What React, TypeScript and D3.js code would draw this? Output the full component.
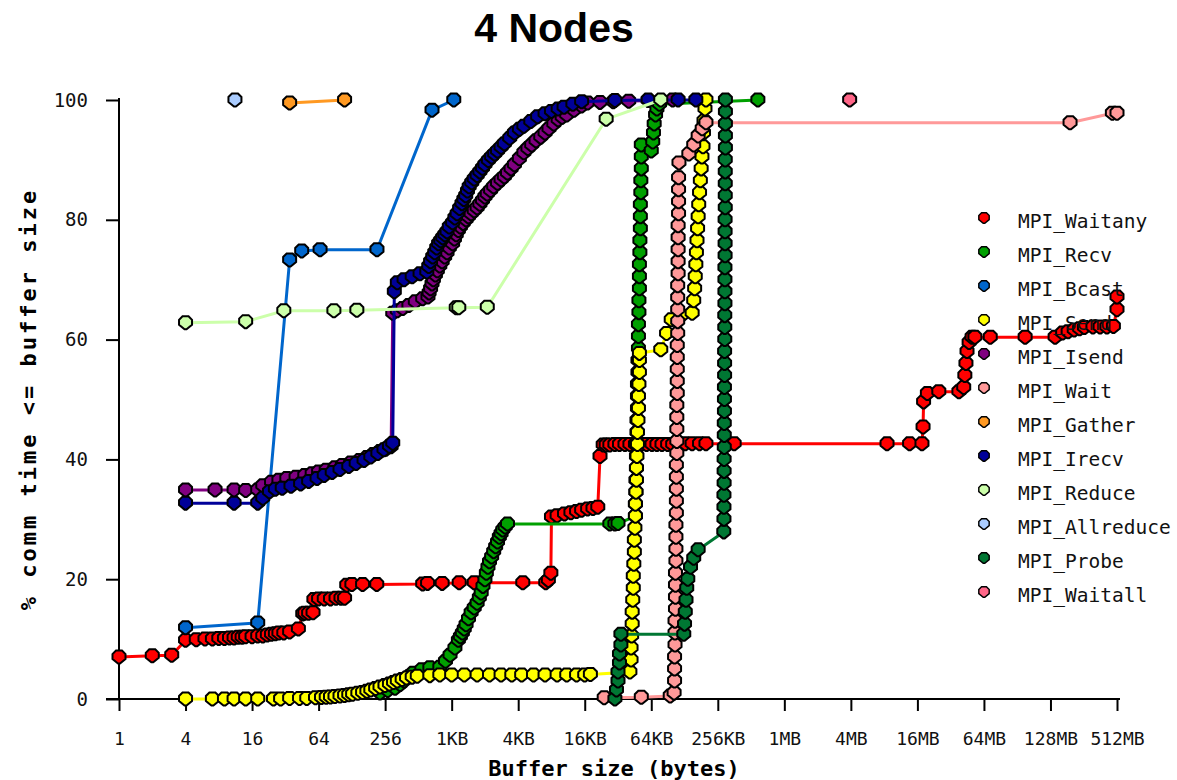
import * as d3 from "d3";
import { useEffect, useRef } from "react";

const WIDTH = 1177;
const HEIGHT = 780;
const MONO = "'DejaVu Sans Mono', monospace";

const KB = 1024;
const MB = 1024 * KB;
const GB = 1024 * MB;

type Pt = [number, number]; // [buffer size in bytes, % comm time]

const X_TICK_LABELS = ["1", "4", "16", "64", "256", "1KB", "4KB", "16KB", "64KB", "256KB", "1MB", "4MB", "16MB", "64MB", "128MB", "512MB"];
const Y_TICKS = [0, 20, 40, 60, 80, 100];

const WAITANY: Pt[] = [
  [1, 7.0], [2, 7.2], [3, 7.3], [4, 9.8], [5, 9.9], [6, 10.0], [7, 10.0], [8, 10.1], [9, 10.1], [10, 10.2],
  [11, 10.2], [12, 10.3], [13, 10.3], [14, 10.4], [16, 10.4], [18, 10.5], [20, 10.5], [22, 10.7], [24, 10.8],
  [26, 10.9], [28, 11.0], [31, 11.0], [35, 11.2], [42, 11.7], [46, 14.2], [48, 14.3], [52, 14.3], [57, 14.4],
  [58, 16.6], [64, 16.7], [72, 16.7], [82, 16.7], [92, 16.8], [102, 16.8], [110, 16.8], [115, 19.0], [128, 19.1],
  [160, 19.1], [215, 19.1], [560, 19.2], [620, 19.3], [840, 19.3], [1.17 * KB, 19.4], [1.6 * KB, 19.4],
  [4.4 * KB, 19.4], [7.1 * KB, 19.4], [7.5 * KB, 19.8], [7.9 * KB, 21.0], [8 * KB, 30.4], [9 * KB, 30.6],
  [10.5 * KB, 30.9], [12 * KB, 31.1], [13.5 * KB, 31.3], [15 * KB, 31.5], [17 * KB, 31.7], [19 * KB, 31.8],
  [21 * KB, 32.0], [22 * KB, 40.5], [23.5 * KB, 42.4], [25 * KB, 42.4], [27 * KB, 42.4], [30 * KB, 42.5],
  [33 * KB, 42.5], [37 * KB, 42.5], [41 * KB, 42.5], [46 * KB, 42.5], [52 * KB, 42.5], [58 * KB, 42.5],
  [65 * KB, 42.5], [72 * KB, 42.5], [80 * KB, 42.5], [90 * KB, 42.5], [100 * KB, 42.5], [115 * KB, 42.5],
  [130 * KB, 42.6], [150 * KB, 42.6], [175 * KB, 42.6], [200 * KB, 42.6], [360 * KB, 42.6], [8.5 * MB, 42.6],
  [13.6 * MB, 42.6], [17.6 * MB, 42.6], [18 * MB, 45.4], [18.2 * MB, 49.6], [19.7 * MB, 51.0], [25 * MB, 51.3],
  [38 * MB, 51.3], [42 * MB, 52], [43 * MB, 54], [44 * MB, 56], [45 * MB, 58], [47 * MB, 59.5], [50 * MB, 60.4],
  [53 * MB, 60.4], [73 * MB, 60.4], [151 * MB, 60.4], [282 * MB, 60.4], [330 * MB, 61.1], [370 * MB, 61.3],
  [420 * MB, 61.6], [470 * MB, 61.8], [520 * MB, 62.0], [620 * MB, 62.1], [720 * MB, 62.1], [830 * MB, 62.1],
  [950 * MB, 62.2], [1 * GB, 65.0], [1 * GB, 67.1],
];

const RECV: Pt[] = [
  [230, 1.0], [270, 1.4], [315, 1.8], [350, 2.4], [380, 3.0], [420, 3.7], [458, 4.3], [550, 4.9], [650, 5.2],
  [800, 5.3], [900, 6.3], [990, 7.3], [1.07 * KB, 8.5], [1.15 * KB, 9.8], [1.2 * KB, 10.4], [1.25 * KB, 11.0],
  [1.3 * KB, 11.7], [1.35 * KB, 12.4], [1.42 * KB, 13.4], [1.5 * KB, 14.4], [1.6 * KB, 15.2], [1.7 * KB, 16],
  [1.78 * KB, 16.9], [1.85 * KB, 17.7], [1.92 * KB, 18.8], [2 * KB, 19.9], [2.06 * KB, 21], [2.13 * KB, 22],
  [2.2 * KB, 22.9], [2.3 * KB, 23.7], [2.4 * KB, 24.6], [2.5 * KB, 25.4], [2.6 * KB, 26.2], [2.7 * KB, 27],
  [2.8 * KB, 27.6], [2.9 * KB, 28.2], [3.05 * KB, 28.7], [3.2 * KB, 29.2], [27 * KB, 29.2], [30 * KB, 29.2],
  [32 * KB, 29.3],
  [46 * KB, 30.5], [46 * KB, 32.5], [46.5 * KB, 34.5], [46.5 * KB, 36.5], [47 * KB, 38.5], [47 * KB, 40.5],
  [47 * KB, 42.5], [47.5 * KB, 44.5], [47.5 * KB, 46.5], [48 * KB, 48.5], [48 * KB, 50.5], [48 * KB, 52.5],
  [48.5 * KB, 54.5], [48.5 * KB, 56.5], [49 * KB, 58.5], [49 * KB, 60.5], [49 * KB, 62.5], [49.5 * KB, 64.5],
  [49.5 * KB, 66.5], [50 * KB, 68.5], [50 * KB, 70.5], [50 * KB, 72.5], [50.5 * KB, 74.5], [50.5 * KB, 76.5],
  [51 * KB, 78.5], [51 * KB, 80.5], [51 * KB, 82.5], [51.5 * KB, 84.5], [51.5 * KB, 86.5], [52 * KB, 88.5],
  [52 * KB, 90.5], [52 * KB, 92.5], [64 * KB, 91.5], [66 * KB, 93], [67 * KB, 94.5], [68 * KB, 96],
  [70 * KB, 97.5], [72 * KB, 98.5], [76 * KB, 99.3], [590 * KB, 100],
];

const BCAST: Pt[] = [
  [4, 11.9], [18, 12.7], [35, 73.3], [45, 74.8], [66, 75], [216, 75], [680, 98.3], [1070, 100],
];

const SEND: Pt[] = [
  [4, 0], [7, 0], [9, 0], [11, 0], [14, 0], [18, 0], [25, 0], [29, 0], [35, 0.1], [43, 0.1], [50, 0.1],
  [60, 0.2], [68, 0.25], [75, 0.3], [82, 0.35], [90, 0.4], [100, 0.5], [110, 0.6], [120, 0.7], [130, 0.8],
  [145, 0.95], [160, 1.1], [175, 1.3], [190, 1.5], [210, 1.75], [230, 2], [255, 2.25], [280, 2.5], [305, 2.75],
  [330, 3], [365, 3.25], [400, 3.5], [450, 3.65], [500, 3.8], [650, 3.9], [800, 4], [1 * KB, 4], [1.3 * KB, 4],
  [1.7 * KB, 4], [2.2 * KB, 4], [2.8 * KB, 4], [3.5 * KB, 4], [4.3 * KB, 4], [5.5 * KB, 4], [7 * KB, 4],
  [9 * KB, 4], [11 * KB, 4], [13.5 * KB, 4], [16 * KB, 4], [18 * KB, 4.1],
  [41 * KB, 4.5], [42 * KB, 6.5], [42 * KB, 8.5], [42.5 * KB, 10.5], [43 * KB, 12.5], [43 * KB, 14.5],
  [43.5 * KB, 16.5], [44 * KB, 18.5], [44 * KB, 20.5], [44.5 * KB, 22.5], [45 * KB, 24.5], [45 * KB, 26.5],
  [45.5 * KB, 28.5], [46 * KB, 30.5], [46 * KB, 32.5], [46.5 * KB, 34.5], [47 * KB, 36.5], [47 * KB, 38.5],
  [47.5 * KB, 40.5], [48 * KB, 42.5], [48 * KB, 44.5], [48.5 * KB, 46.5], [49 * KB, 48.5], [49 * KB, 50.5],
  [49.5 * KB, 52.5], [50 * KB, 54.5], [50 * KB, 56.5], [50 * KB, 57.7],
  [78 * KB, 58.3], [88 * KB, 61], [97 * KB, 63.3], [120 * KB, 64.0], [150 * KB, 64.4], [155 * KB, 66.5],
  [158 * KB, 68.5], [160 * KB, 70.5], [162 * KB, 72.5], [164 * KB, 74.5], [166 * KB, 76.5], [168 * KB, 78.5],
  [170 * KB, 80.5], [172 * KB, 82.5], [175 * KB, 84.5], [178 * KB, 86.5], [181 * KB, 88.5], [184 * KB, 90.5],
  [188 * KB, 92.2], [190 * KB, 94.5], [192 * KB, 96.5], [196 * KB, 98.5], [200 * KB, 100],
];

const ISEND: Pt[] = [
  [4, 34.9], [7.4, 34.9], [11, 34.9], [14, 34.8], [18, 34.9], [20, 35.6], [24, 36.2], [28, 36.5], [33, 36.8],
  [40, 37], [48, 37.3], [56, 37.6], [64, 37.9], [75, 38.2], [90, 38.6], [105, 39], [125, 39.4], [150, 39.8],
  [175, 40.3], [200, 40.8], [230, 41.3], [260, 41.7], [290, 42.1],
  [300, 64.4], [330, 64.8], [370, 65.2], [420, 65.7], [480, 66.3], [560, 66.8], [625, 67.1], [640, 67.8],
  [660, 68.5], [680, 69.3], [700, 70], [730, 70.8], [760, 71.5], [800, 72.3], [840, 73], [885, 73.8], [930, 74.5],
  [975, 75.3], [1.02 * KB, 76], [1.06 * KB, 76.8], [1.1 * KB, 77.5], [1.15 * KB, 78.2], [1.2 * KB, 78.8],
  [1.27 * KB, 79.4], [1.35 * KB, 80], [1.42 * KB, 80.5], [1.5 * KB, 81], [1.6 * KB, 81.5], [1.7 * KB, 82],
  [1.8 * KB, 82.6], [1.9 * KB, 83.2], [2 * KB, 83.8], [2.1 * KB, 84.3], [2.25 * KB, 84.9], [2.4 * KB, 85.5],
  [2.6 * KB, 86.1], [2.8 * KB, 86.7], [3 * KB, 87.2], [3.2 * KB, 87.8], [3.45 * KB, 88.5], [3.7 * KB, 89.2],
  [4.1 * KB, 90.2], [4.5 * KB, 91.2], [4.9 * KB, 91.9], [5.3 * KB, 92.5], [5.8 * KB, 93.2], [6.4 * KB, 93.8],
  [7 * KB, 94.5], [7.6 * KB, 95.2], [8.4 * KB, 96], [9.2 * KB, 96.7], [10 * KB, 97.1], [11 * KB, 97.5],
  [12.8 * KB, 98.3], [15 * KB, 99], [17 * KB, 99.5], [22 * KB, 99.6], [29 * KB, 99.7], [40 * KB, 99.8],
  [60 * KB, 99.9], [100 * KB, 100],
];

const WAIT: Pt[] = [
  [24 * KB, 0.2], [52 * KB, 0.3], [95 * KB, 0.5], [103 * KB, 1], [104 * KB, 3], [104 * KB, 5], [104 * KB, 7],
  [105 * KB, 9], [105 * KB, 11], [105 * KB, 13], [106 * KB, 15], [106 * KB, 17], [106 * KB, 19], [106 * KB, 21],
  [107 * KB, 23], [107 * KB, 25], [107 * KB, 27], [107 * KB, 29], [108 * KB, 31], [108 * KB, 33], [108 * KB, 35],
  [108 * KB, 37], [108 * KB, 39], [109 * KB, 41], [109 * KB, 43], [109 * KB, 45], [109 * KB, 47], [109 * KB, 49],
  [110 * KB, 51], [110 * KB, 53], [110 * KB, 55], [110 * KB, 57], [110 * KB, 59], [111 * KB, 61], [111 * KB, 63],
  [111 * KB, 65], [111 * KB, 67], [111 * KB, 69], [112 * KB, 71], [112 * KB, 73], [112 * KB, 75], [112 * KB, 77],
  [112 * KB, 79], [113 * KB, 81], [113 * KB, 83], [113 * KB, 85], [113 * KB, 87], [114 * KB, 89.5],
  [140 * KB, 91], [155 * KB, 92.5], [170 * KB, 94], [185 * KB, 95.2], [200 * KB, 96.2], [385 * MB, 96.2],
  [930 * MB, 97.8], [1 * GB, 97.8],
];

const GATHER: Pt[] = [[35, 99.5], [110, 100]];

const IRECV: Pt[] = [
  [4, 32.7], [11, 32.7], [18, 32.7], [20, 33.5], [23, 34.6], [26, 35], [30, 35.2], [36, 35.5], [44, 35.9],
  [52, 36.3], [62, 36.8], [72, 37.3], [85, 37.8], [100, 38.3], [120, 38.8], [140, 39.3], [165, 39.8],
  [190, 40.4], [220, 41], [250, 41.6], [280, 42.2], [300, 42.7],
  [310, 68], [330, 69.5], [380, 70], [450, 70.5], [530, 71], [610, 71.3], [635, 72.2], [660, 73], [690, 73.8],
  [720, 74.5], [750, 75.3], [780, 76], [815, 76.5], [850, 77], [890, 77.5], [930, 78], [975, 78.8],
  [1.02 * KB, 79.5], [1.07 * KB, 80.3], [1.12 * KB, 81], [1.18 * KB, 81.9], [1.24 * KB, 82.7], [1.29 * KB, 83.4],
  [1.34 * KB, 84], [1.39 * KB, 84.8], [1.44 * KB, 85.5], [1.52 * KB, 86.2], [1.6 * KB, 86.8], [1.7 * KB, 87.4],
  [1.8 * KB, 88], [1.9 * KB, 88.6], [2 * KB, 89.2], [2.15 * KB, 89.9], [2.3 * KB, 90.5], [2.45 * KB, 91],
  [2.6 * KB, 91.5], [2.8 * KB, 92.1], [3 * KB, 92.7], [3.35 * KB, 93.6], [3.7 * KB, 94.5], [4.1 * KB, 95.1],
  [4.5 * KB, 95.6], [5.2 * KB, 96.4], [6 * KB, 97.2], [7 * KB, 97.7], [8 * KB, 98.1], [9.2 * KB, 98.5],
  [10.4 * KB, 98.8], [12.5 * KB, 99.3], [15 * KB, 99.7], [30 * KB, 99.9], [60 * KB, 100], [112 * KB, 100],
  [162 * KB, 100],
];

const REDUCE: Pt[] = [
  [4, 62.8], [14, 63], [31, 64.8], [88, 64.8], [142, 64.9], [1.1 * KB, 65.3], [1.16 * KB, 65.3],
  [2.1 * KB, 65.4], [25 * KB, 96.8], [78 * KB, 100],
];

const ALLREDUCE: Pt[] = [[11.2, 100]];

const PROBE: Pt[] = [
  [30 * KB, 0], [31 * KB, 1.5], [32 * KB, 3], [32 * KB, 4.5], [33 * KB, 6], [33 * KB, 7.5], [34 * KB, 9],
  [34 * KB, 10.8], [126 * KB, 10.8], [128 * KB, 12.5], [130 * KB, 14.5], [132 * KB, 16.5], [134 * KB, 18.5],
  [137 * KB, 20], [145 * KB, 22], [155 * KB, 23.5], [170 * KB, 24.9], [290 * KB, 27.9],
  [291 * KB, 30], [291 * KB, 32], [291 * KB, 34], [292 * KB, 36], [292 * KB, 38], [292 * KB, 40], [293 * KB, 42],
  [293 * KB, 44], [293 * KB, 46], [294 * KB, 48], [294 * KB, 50], [294 * KB, 52], [295 * KB, 54], [295 * KB, 56],
  [295 * KB, 58], [296 * KB, 60], [296 * KB, 62], [296 * KB, 64], [297 * KB, 66], [297 * KB, 68], [297 * KB, 70],
  [297 * KB, 72], [298 * KB, 74], [298 * KB, 76], [298 * KB, 78], [298 * KB, 80], [299 * KB, 82], [299 * KB, 84],
  [299 * KB, 86], [299 * KB, 88], [299 * KB, 90], [300 * KB, 92], [300 * KB, 94], [300 * KB, 96], [300 * KB, 98],
  [300 * KB, 100],
];

const WAITALL: Pt[] = [[3.9 * MB, 100]];

const SERIES = [
  { name: "MPI_Waitany", color: "#ff0000", points: WAITANY },
  { name: "MPI_Recv", color: "#00a000", points: RECV },
  { name: "MPI_Bcast", color: "#0066cc", points: BCAST },
  { name: "MPI_Send", color: "#ffff00", points: SEND },
  { name: "MPI_Isend", color: "#800080", points: ISEND },
  { name: "MPI_Wait", color: "#ff9999", points: WAIT },
  { name: "MPI_Gather", color: "#ff9922", points: GATHER },
  { name: "MPI_Irecv", color: "#000099", points: IRECV },
  { name: "MPI_Reduce", color: "#ccffaa", points: REDUCE },
  { name: "MPI_Allreduce", color: "#aaccff", points: ALLREDUCE },
  { name: "MPI_Probe", color: "#007733", points: PROBE },
  { name: "MPI_Waitall", color: "#ff6688", points: WAITALL },
];

// rounded pentagon, point down, like the GD markers
const MARKER = "M-3,-6.5 L3,-6.5 L6.5,-3 L6.5,2 L1,6.5 L-1,6.5 L-6.5,2 L-6.5,-3 Z";

export default function App() {
  const ref = useRef<SVGSVGElement>(null);

  useEffect(() => {
    const svg = d3.select(ref.current);
    svg.selectAll("*").remove();

    const x = d3.scaleLog().base(2).domain([1, 2 ** 30]).range([119, 1117]);
    const y = d3.scaleLinear().domain([0, 100]).range([699, 100]);
    const [left] = x.range();
    const [bottom, top] = y.range();

    svg
      .append("text")
      .attr("x", 554)
      .attr("y", 42)
      .attr("text-anchor", "middle")
      .attr("font-family", "'Liberation Sans', Arial, sans-serif")
      .attr("font-weight", "bold")
      .attr("font-size", 41)
      .text("4 Nodes");

    // axes
    const xAxis = d3
      .axisBottom(x)
      .tickValues(X_TICK_LABELS.map((_, i) => 4 ** i))
      .tickFormat((_, i) => X_TICK_LABELS[i])
      .tickSize(12)
      .tickSizeOuter(0)
      .tickPadding(21);
    const gx = svg.append("g").attr("transform", `translate(0,${bottom})`).call(xAxis);
    gx.select(".domain").remove();
    gx.selectAll("line").attr("stroke", "#000").attr("stroke-width", 2);
    gx.selectAll("text").attr("font-family", MONO).attr("font-size", 18).attr("fill", "#111");

    const yAxis = d3.axisLeft(y).tickValues(Y_TICKS).tickSize(13).tickSizeOuter(0).tickPadding(18);
    const gy = svg.append("g").attr("transform", `translate(${left},0)`).call(yAxis);
    gy.select(".domain").remove();
    gy.selectAll("line").attr("stroke", "#000").attr("stroke-width", 2);
    gy.selectAll("text").attr("font-family", MONO).attr("font-size", 19).attr("fill", "#111");

    svg
      .append("line")
      .attr("x1", left - 13)
      .attr("x2", x(2 ** 30) + 3)
      .attr("y1", bottom)
      .attr("y2", bottom)
      .attr("stroke", "#000")
      .attr("stroke-width", 2);
    svg
      .append("line")
      .attr("x1", left)
      .attr("x2", left)
      .attr("y1", top - 2)
      .attr("y2", bottom)
      .attr("stroke", "#000")
      .attr("stroke-width", 2);

    svg
      .append("text")
      .attr("x", 614)
      .attr("y", 776)
      .attr("text-anchor", "middle")
      .attr("font-family", MONO)
      .attr("font-weight", "bold")
      .attr("font-size", 22)
      .text("Buffer size (bytes)");
    svg
      .append("text")
      .attr("transform", "translate(36,399) rotate(-90)")
      .attr("text-anchor", "middle")
      .attr("font-family", MONO)
      .attr("font-weight", "bold")
      .attr("font-size", 22)
      .attr("letter-spacing", 3)
      .text("% comm time <= buffer size");

    // series: line first, then its markers, in legend order
    const line = d3
      .line<Pt>()
      .x((d) => x(d[0]))
      .y((d) => y(d[1]));
    const plot = svg.append("g");
    SERIES.forEach((s) => {
      const g = plot.append("g");
      g.append("path")
        .attr("d", line(s.points) ?? "")
        .attr("fill", "none")
        .attr("stroke", s.color)
        .attr("stroke-width", 3);
      g.selectAll("path.marker")
        .data(s.points)
        .join("path")
        .attr("class", "marker")
        .attr("d", MARKER)
        .attr("transform", (d) => `translate(${x(d[0])},${y(d[1])})`)
        .attr("fill", s.color)
        .attr("stroke", "#000")
        .attr("stroke-width", 2);
    });

    // legend
    const legend = svg.append("g").attr("transform", "translate(984,218)");
    SERIES.forEach((s, i) => {
      const item = legend.append("g").attr("transform", `translate(0,${i * 34})`);
      item
        .append("path")
        .attr("d", MARKER)
        .attr("transform", "scale(0.8)")
        .attr("fill", s.color)
        .attr("stroke", "#000")
        .attr("stroke-width", 1.8);
      item
        .append("text")
        .attr("x", 34)
        .attr("y", 10)
        .attr("font-family", MONO)
        .attr("font-size", 19.5)
        .attr("fill", "#111")
        .text(s.name);
    });
  }, []);

  return (
    <svg
      ref={ref}
      width={WIDTH}
      height={HEIGHT}
      style={{ position: "absolute", left: 0, top: 0, background: "#fff" }}
    />
  );
}
